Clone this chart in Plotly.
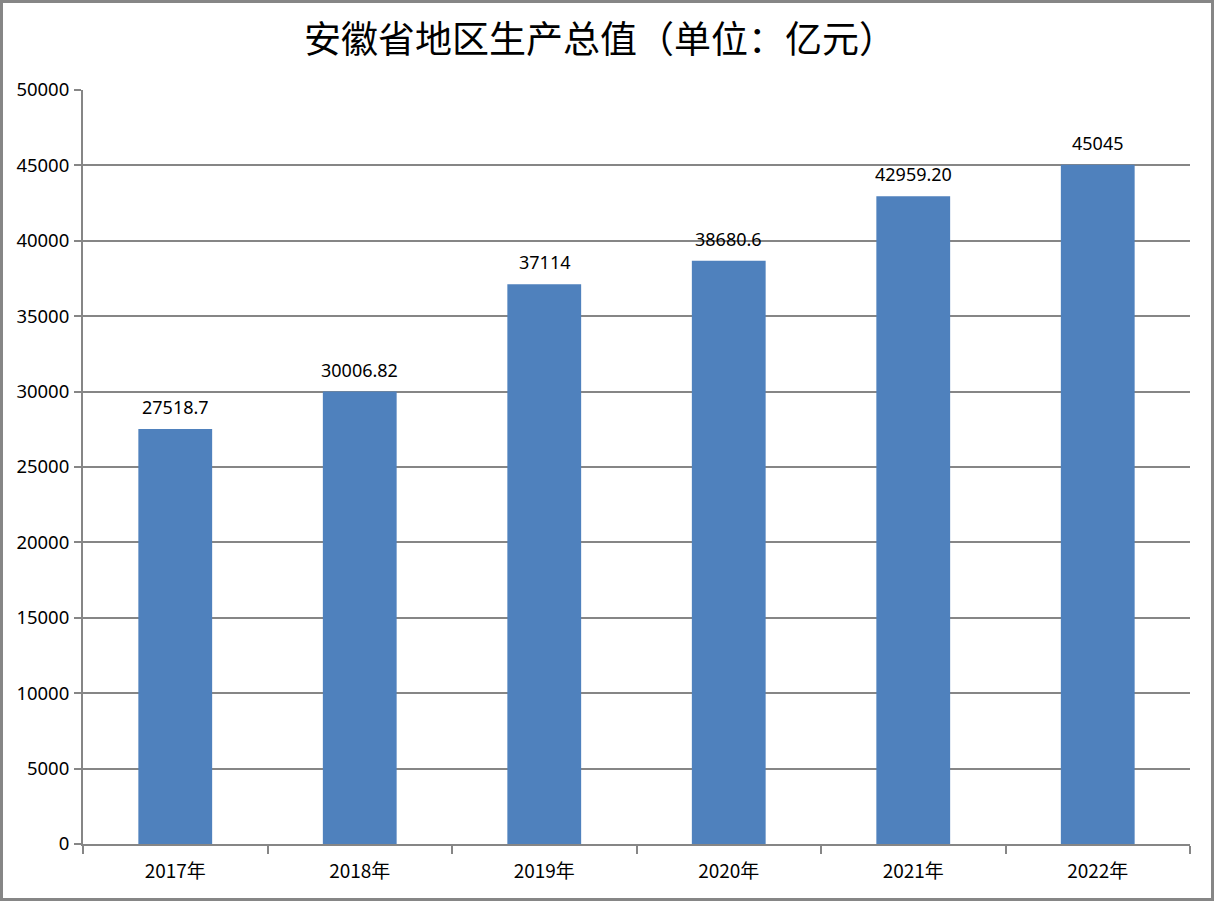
import plotly.graph_objects as go

categories = ["2017年", "2018年", "2019年", "2020年", "2021年", "2022年"]
values = [27518.7, 30006.82, 37114, 38680.6, 42959.20, 45045]
value_labels = ["27518.7", "30006.82", "37114", "38680.6", "42959.20", "45045"]
title_text = "安徽省地区生产总值（单位：亿元）"

W, H = 1214, 901
L, R, T, B = 83, 24, 90, 57
pw, ph = W - L - R, H - T - B

fig = go.Figure()
fig.add_trace(go.Bar(x=categories, y=values, marker_color="#4F81BD",
                     marker_line_width=0, width=0.4, hoverinfo="x+y"))

for c, v, t in zip(categories, values, value_labels):
    fig.add_annotation(x=c, y=v, text=t, showarrow=False, yanchor="bottom",
                       yshift=8, font=dict(size=18, color="#000000",
                                           family="Noto Sans, DejaVu Sans, sans-serif"))

gray = "#868686"
fig.update_layout(
    width=W, height=H,
    margin=dict(l=L, r=R, t=T, b=B),
    paper_bgcolor="white", plot_bgcolor="white",
    showlegend=False,
    title=dict(text=title_text, x=600 / W, xanchor="center", y=1 - 40 / H, yanchor="middle",
               font=dict(size=37, color="#000000", family="Noto Sans CJK SC")),
    xaxis=dict(type="category", showline=True, linecolor=gray, linewidth=2,
               ticks="outside", tickson="boundaries", ticklen=8, tickcolor=gray, tickwidth=2,
               showgrid=False, ticklabelstandoff=9,
               tickfont=dict(size=19, color="#000000", family="Noto Sans CJK SC")),
    yaxis=dict(range=[0, 50000], dtick=5000, tick0=0, showline=True, linecolor=gray,
               linewidth=2, ticks="outside", ticklen=7, tickcolor=gray, tickwidth=2,
               showgrid=True, gridcolor=gray, gridwidth=1.5, zeroline=False,
               tickformat="d", ticklabelstandoff=1,
               tickfont=dict(size=18.5, color="#000000", family="Noto Sans, DejaVu Sans, sans-serif")),
)

# outer chart border
x0 = (1.5 - L) / pw
x1 = (W - 1.5 - L) / pw
y1 = (H - B - 1.5) / ph
y0 = (H - B - (H - 1.5)) / ph
fig.add_shape(type="rect", xref="paper", yref="paper", x0=x0, x1=x1, y0=y0, y1=y1,
              line=dict(color=gray, width=3), fillcolor="rgba(0,0,0,0)", layer="above")

fig.write_html("out.html", config={"displayModeBar": False},
               post_script="document.body.style.margin='0';document.body.style.overflow='hidden';")
